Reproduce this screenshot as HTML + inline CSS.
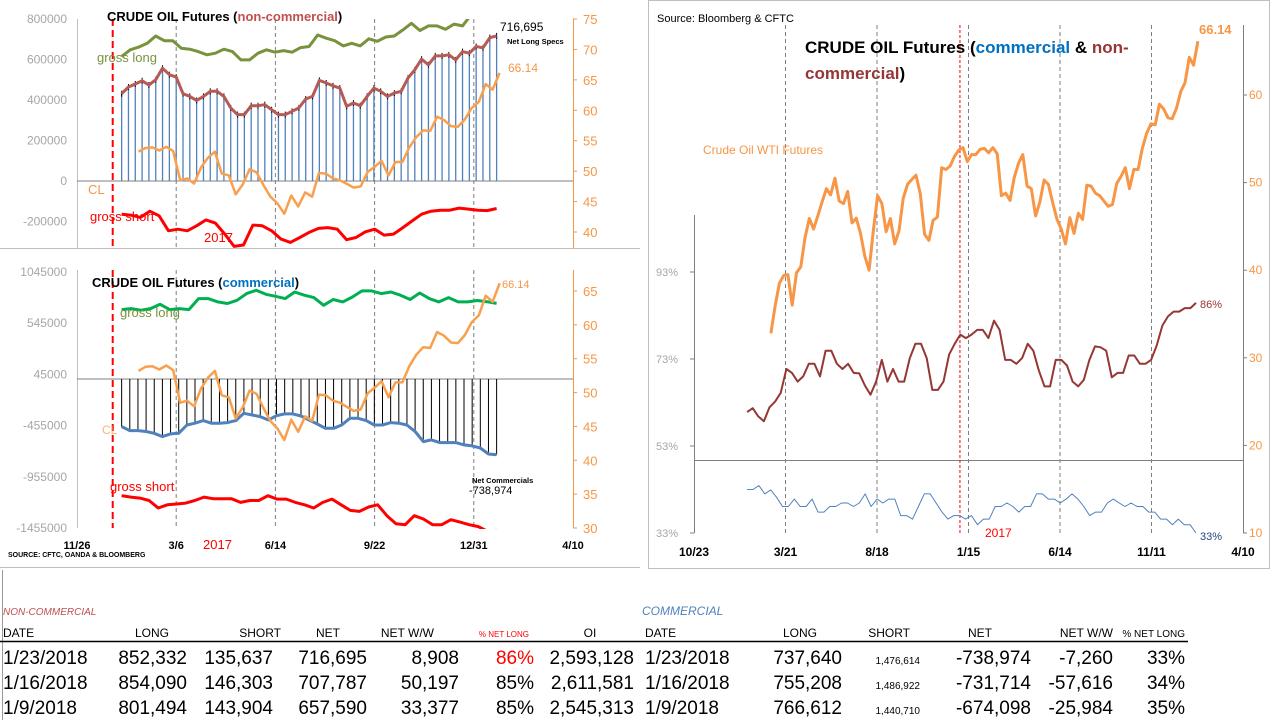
<!DOCTYPE html>
<html><head><meta charset="utf-8"><style>
body{margin:0;background:#fff;}
svg{display:block;font-family:"Liberation Sans",sans-serif;}
</style></head><body>
<svg id="s" width="1278" height="724" viewBox="0 0 1278 724">
<defs>
<clipPath id="cTop"><rect x="77" y="19" width="496" height="229"/></clipPath>
<clipPath id="cBot"><rect x="77" y="270" width="496" height="259"/></clipPath>
<clipPath id="cR"><rect x="694" y="20" width="549" height="514"/></clipPath>
</defs>
<!-- frames -->
<line x1="0" y1="248.5" x2="640" y2="248.5" stroke="#bfbfbf"/>
<line x1="0" y1="567.5" x2="640" y2="567.5" stroke="#bfbfbf"/>
<rect x="648.5" y="0.5" width="621" height="568" fill="none" stroke="#bfbfbf"/>
<line x1="2.5" y1="570" x2="2.5" y2="720" stroke="#999"/>
<g id="g"></g>
<!-- top-left texts -->
<text x="107" y="21" font-size="13" font-weight="bold">CRUDE OIL Futures (<tspan fill="#c0504d">non-commercial</tspan>)</text>
<text x="500" y="31" font-size="12">716,695</text>
<text x="507" y="44" font-size="7.5" font-weight="bold">Net Long Specs</text>
<text x="508" y="72" font-size="12" fill="#f79646">66.14</text>
<text x="97" y="62" font-size="13" fill="#77933c">gross long</text>
<text x="88" y="194" font-size="13" fill="#f79646">CL</text>
<text x="90" y="221" font-size="13" fill="#ff0000">gross short</text>
<text x="204" y="242" font-size="13" fill="#ff0000">2017</text>
<!-- bottom-left texts -->
<text x="92" y="287" font-size="13" font-weight="bold">CRUDE OIL Futures (<tspan fill="#0070c0">commercial</tspan>)</text>
<text x="120" y="317" font-size="13" fill="#77933c">gross long</text>
<text x="110" y="491" font-size="13" fill="#ff0000">gross short</text>
<text x="102" y="434" font-size="12" fill="#f79646" opacity="0.7">CL</text>
<text x="472" y="483" font-size="7.5" font-weight="bold">Net Commercials</text>
<text x="469" y="494" font-size="11">-738,974</text>
<text x="502" y="288" font-size="11" fill="#f79646">66.14</text>
<text x="203" y="549" font-size="13" fill="#ff0000">2017</text>
<text x="8" y="557" font-size="7" font-weight="bold">SOURCE: CFTC, OANDA &amp; BLOOMBERG</text>
<!-- right chart texts -->
<text x="657" y="22" font-size="11">Source: Bloomberg &amp; CFTC</text>
<text x="805" y="53" font-size="17" font-weight="bold">CRUDE OIL Futures (<tspan fill="#0070c0">commercial</tspan> &amp; <tspan fill="#953735">non-</tspan></text>
<text x="805" y="79" font-size="17" font-weight="bold"><tspan fill="#953735">commercial</tspan>)</text>
<text x="703" y="154" font-size="12" fill="#f79646">Crude Oil WTI Futures</text>
<text x="1199" y="34" font-size="13" font-weight="bold" fill="#f79646">66.14</text>
<text x="1200" y="308" font-size="11" fill="#953735">86%</text>
<text x="1200" y="540" font-size="11" fill="#1f497d">33%</text>
<text x="985" y="537" font-size="12" fill="#ff0000">2017</text>
<!-- table -->
<g font-size="19">
<text x="3" y="615" font-size="10" font-style="italic" fill="#c0504d">NON-COMMERCIAL</text>
<text x="642" y="615" font-size="12" font-style="italic" fill="#4f81bd">COMMERCIAL</text>
<g font-size="12">
<text x="3" y="637">DATE</text><text x="152" y="637" text-anchor="middle">LONG</text><text x="281" y="637" text-anchor="end">SHORT</text><text x="328" y="637" text-anchor="middle">NET</text><text x="434" y="637" text-anchor="end">NET W/W</text><text x="529" y="637" text-anchor="end" font-size="8" fill="#ff0000">% NET LONG</text><text x="590" y="637" text-anchor="middle">OI</text><text x="645" y="637">DATE</text><text x="800" y="637" text-anchor="middle">LONG</text><text x="910" y="637" text-anchor="end">SHORT</text><text x="980" y="637" text-anchor="middle">NET</text><text x="1113" y="637" text-anchor="end">NET W/W</text><text x="1185" y="637" text-anchor="end" font-size="10">% NET LONG</text>
</g>
<line x1="0" y1="641.5" x2="1188" y2="641.5" stroke="#000" stroke-width="1.5"/>
<g id="rows"></g>
</g>
</svg>
<script>
// ===== data =====
const wtiStart = '2016-02-26';
const wtiValues = [32.8,35.9,38.5,39.4,39.5,36.0,39.7,40.4,43.7,45.9,44.7,46.2,47.8,49.3,48.6,50.5,47.9,47.6,48.99,45.4,45.95,44.2,41.6,40.0,44.5,48.5,47.6,44.4,45.9,43.0,44.5,48.2,49.8,50.35,50.85,48.7,44.1,43.4,45.7,46.06,51.7,51.5,51.9,53.0,53.7,
53.99,52.4,53.2,53.2,53.8,53.9,53.4,54.0,53.3,48.5,48.8,47.97,50.6,52.2,53.2,49.6,49.3,46.2,47.8,50.3,49.8,47.7,45.8,44.7,43.0,46.0,44.2,46.5,45.8,49.7,49.6,48.8,48.5,47.9,47.3,47.5,49.9,50.7,51.7,49.3,51.5,51.5,53.9,55.6,56.7,56.6,58.95,58.4,57.4,57.3,58.5,60.4,61.4,64.3,63.4,66.14];
const cotStart = '2017-01-10', cotEnd = '2018-01-23';
const ncNet = [431,464,479,495,474,500,557,525,513,431,418,398,418,443,443,418,361,328,328,372,372,377,352,328,328,344,361,405,418,497,484,470,459,369,385,372,418,459,443,418,434,443,508,549,602,574,618,618,623,598,639,631,664,657.6,707.8,716.7];
const ncLong = [615,648,661,680,716,693,693,656,651,639,623,631,651,639,598,598,631,648,636,644,636,659,664,721,705,693,667,680,667,702,690,711,716,746,779,743,766,766,749,775,766,820,852,854,852];
const ncShort = [-164,-169,-180,-149,-172,-246,-238,-246,-221,-192,-208,-262,-323,-316,-218,-221,-246,-287,-303,-279,-254,-234,-230,-238,-290,-279,-251,-238,-267,-262,-230,-197,-164,-149,-144,-144,-134,-139,-144,-146,-136];
const cNet = [-465,-504,-504,-513,-530,-562,-536,-530,-449,-432,-406,-432,-432,-426,-406,-335,-351,-367,-400,-358,-341,-341,-361,-400,-439,-481,-481,-449,-384,-384,-406,-449,-449,-426,-432,-449,-513,-611,-595,-621,-621,-621,-643,-653,-674,-732,-739];
const cLong = [678,688,672,688,730,678,688,678,785,785,753,737,769,834,866,827,808,785,850,818,795,720,776,753,801,860,860,834,850,818,776,840,785,753,795,753,753,767,755,738];
const cShort = [-1140,-1153,-1163,-1186,-1260,-1228,-1221,-1212,-1186,-1153,-1169,-1169,-1169,-1205,-1186,-1186,-1140,-1173,-1173,-1205,-1228,-1260,-1205,-1173,-1228,-1283,-1293,-1250,-1228,-1335,-1413,-1423,-1335,-1367,-1423,-1423,-1374,-1397,-1423,-1441,-1487,-1477];
const pctStart = '2016-01-18', pctEnd = '2018-01-23';
const ncPct = [60.8,61.7,59.8,58.7,61.9,63.2,65.2,70.7,69.8,67.8,69.0,71.9,71.9,69.0,74.9,74.9,71.9,70.7,71.9,69.8,69.7,66.9,64.8,67.8,72.8,67.8,70.7,67.8,67.8,73.2,76.5,76.5,73.2,65.9,65.9,67.8,74.0,76.5,78.6,77.8,78.6,79.7,79.7,77.8,81.8,79.7,72.8,72.8,71.9,73.2,76.5,74.9,70.3,66.7,66.7,72.8,72.8,71.5,67.8,66.7,68.2,72.8,75.9,75.7,74.9,68.8,69.8,69.8,73.8,73.8,71.9,71.9,72.8,76.1,80.7,82.8,83.9,83.9,84.7,84.7,85.9];
const cPct = [43.0,43.0,43.9,42.0,42.9,41.2,39.1,39.1,40.8,39.1,39.1,40.8,37.8,37.8,39.1,39.1,39.9,39.9,39.1,39.9,42.0,39.1,40.8,39.9,40.8,40.8,37.0,37.0,36.2,39.1,42.0,42.0,39.9,37.8,36.2,37.0,37.0,36.2,37.0,34.9,36.2,36.2,39.1,39.1,39.9,39.1,37.8,39.1,39.1,42.0,42.0,40.8,40.8,39.9,40.8,42.0,40.8,39.1,37.0,37.8,37.8,39.9,40.8,39.9,39.1,39.9,39.1,39.1,37.8,37.8,36.2,36.2,34.9,36.2,34.9,34.9,33.0];
const topLeftTicks = [800000,600000,400000,200000,0,-200000];
const topRightTicks = [75,70,65,60,55,50,45,40];
const botLeftTicks = [1045000,545000,45000,-455000,-955000,-1455000];
const botRightTicks = [65,60,55,50,45,40,35,30];
const leftDates = ['2016-11-26','2017-03-06','2017-06-14','2017-09-22','2017-12-31','2018-04-10'];
const leftDateLabels = ['11/26','3/6','6/14','9/22','12/31','4/10'];
const rightDates = ['2015-10-23','2016-03-21','2016-08-18','2017-01-15','2017-06-14','2017-11-11','2018-04-10'];
const rightDateLabels = ['10/23','3/21','8/18','1/15','6/14','11/11','4/10'];
const pctTicks = [93,73,53,33];
const wtiTicks = [60,50,40,30,20,10];
const tableRows = [
 ['1/23/2018','852,332','135,637','716,695','8,908','86%','2,593,128','1/23/2018','737,640','1,476,614','-738,974','-7,260','33%'],
 ['1/16/2018','854,090','146,303','707,787','50,197','85%','2,611,581','1/16/2018','755,208','1,486,922','-731,714','-57,616','34%'],
 ['1/9/2018','801,494','143,904','657,590','33,377','85%','2,545,313','1/9/2018','766,612','1,440,710','-674,098','-25,984','35%']];

// ===== helpers =====
const NS='http://www.w3.org/2000/svg';
const G=document.getElementById('g');
function el(tag,attrs,parent){const e=document.createElementNS(NS,tag);for(const k in attrs)e.setAttribute(k,attrs[k]);(parent||G).appendChild(e);return e;}
const D=s=>Date.parse(s+'T00:00:00Z')/864e5;
const xL=d=>77+(d-D('2016-11-26'))*496/500;
const yTL=v=>181-v*162/800000;
const yTR=p=>19+(75-p)*213/35;
const yBL=v=>272+(1045000-v)*256/2500000;
const yBR=p=>291+(65-p)*237/35;
const xR=d=>694+(d-D('2015-10-23'))*549/900;
const yRP=p=>533-(p-33)*261/60;
const yRR=p=>533-(p-10)*438/50;
function spread(n,s,e){const a=D(s),b=D(e);return Array.from({length:n},(_,i)=>a+i*(b-a)/(n-1));}
const wtiDays=wtiValues.map((_,i)=>D(wtiStart)+i*7);
function path(xs,ys,stroke,w,clip,name){
  const d=xs.map((x,i)=>(i?'L':'M')+x.toFixed(1)+','+ys[i].toFixed(1)).join('');
  const p=el('path',{d:d,fill:'none',stroke:stroke,'stroke-width':w,'stroke-linejoin':'round','clip-path':'url(#'+clip+')'});
  
  
  return p;
}

// ===== left axes & grid =====
[['top',19,248],['bot',270,528]].forEach(([k,y0,y1])=>{
  const a=el('line',{x1:77.5,y1:y0,x2:77.5,y2:y1,stroke:'#bfbfbf'});
  
  
  const b=el('line',{x1:573.5,y1:y0,x2:573.5,y2:y1,stroke:'#f79646'});
  
  
  for(let i=1;i<5;i++){
    const x=xL(D(leftDates[i]));
    const l=el('line',{x1:x,y1:y0,x2:x,y2:y1,stroke:'#7f7f7f','stroke-dasharray':'4,3'});
    
    
  }
  const r=el('line',{x1:xL(D('2017-01-01')),y1:y0,x2:xL(D('2017-01-01')),y2:y1,stroke:'#ff0000','stroke-width':2,'stroke-dasharray':'7,4'});
  
  
});
topLeftTicks.forEach(v=>{const t=el('text',{x:67,y:yTL(v)+4,'font-size':12,fill:'#a6a6a6','text-anchor':'end'});t.textContent=v;
  
  });
topRightTicks.forEach(v=>{const t=el('text',{x:583,y:yTR(v)+5,'font-size':13,fill:'#f79646'});t.textContent=v;
  
  
  el('line',{x1:573,y1:yTR(v),x2:577,y2:yTR(v),stroke:'#f79646'});});
botLeftTicks.forEach(v=>{const t=el('text',{x:67,y:yBL(v)+4,'font-size':12,fill:'#a6a6a6','text-anchor':'end'});t.textContent=v;
  
  });
botRightTicks.forEach(v=>{const t=el('text',{x:583,y:yBR(v)+5,'font-size':13,fill:'#f79646'});t.textContent=v;
  
  
  el('line',{x1:573,y1:yBR(v),x2:577,y2:yBR(v),stroke:'#f79646'});});
leftDates.forEach((d,i)=>{const t=el('text',{x:xL(D(d)),y:549,'font-size':11,'font-weight':'bold','text-anchor':'middle'});t.textContent=leftDateLabels[i];
  
  });

// ===== top chart =====
const z1=el('line',{x1:77,y1:yTL(0),x2:573,y2:yTL(0),stroke:'#7f7f7f'});


const netDays=spread(ncNet.length,cotStart,cotEnd);
ncNet.forEach((v,i)=>{const b=el('line',{x1:xL(netDays[i]),y1:yTL(0),x2:xL(netDays[i]),y2:yTL(v*1000),stroke:'#4f81bd','stroke-width':1.3});
  
  
  el('line',{x1:xL(netDays[i]),y1:yTL(v*1000)-3,x2:xL(netDays[i]),y2:yTL(v*1000)+3,stroke:'#000','stroke-width':1});});
path(netDays.map(xL),ncNet.map(v=>yTL(v*1000)),'#b65a55',3,'cTop','net-long-line');
const lDays=spread(ncLong.length,cotStart,cotEnd);
path(lDays.map(xL),ncLong.map(v=>yTL(v*1000)),'#77933c',3,'cTop','gross-long-line-top');
const sDays=spread(ncShort.length,cotStart,cotEnd);
path(sDays.map(xL),ncShort.map(v=>yTL(v*1000)),'#ff0000',3,'cTop','gross-short-line-top');
const clIdx=wtiDays.map((d,i)=>i).filter(i=>wtiDays[i]>=D('2017-01-27'));
path(clIdx.map(i=>xL(wtiDays[i])),clIdx.map(i=>yTR(wtiValues[i])),'#f9a04e',2.5,'cTop','cl-line-top');

// ===== bottom chart =====
const z2=el('line',{x1:77,y1:yBL(0),x2:573,y2:yBL(0),stroke:'#7f7f7f'});


const cnDays=spread(cNet.length,cotStart,cotEnd);
cNet.forEach((v,i)=>{const b=el('line',{x1:xL(cnDays[i]),y1:yBL(0),x2:xL(cnDays[i]),y2:yBL(v*1000),stroke:'#000','stroke-width':1});
  
  });
path(cnDays.map(xL),cNet.map(v=>yBL(v*1000)),'#4f81bd',3,'cBot','net-commercial-line');
const clDays=spread(cLong.length,cotStart,cotEnd);
path(clDays.map(xL),cLong.map(v=>yBL(v*1000)),'#00b050',3,'cBot','gross-long-line-bottom');
const csDays=spread(cShort.length,cotStart,cotEnd);
path(csDays.map(xL),cShort.map(v=>yBL(v*1000)),'#ff0000',3,'cBot','gross-short-line-bottom');
path(clIdx.map(i=>xL(wtiDays[i])),clIdx.map(i=>yBR(wtiValues[i])),'#f9a04e',2.5,'cBot','cl-line-bottom');

// ===== right chart =====
const ra=el('line',{x1:694.5,y1:215,x2:694.5,y2:533,stroke:'#7f7f7f'});


const rb=el('line',{x1:1243.5,y1:25,x2:1243.5,y2:533,stroke:'#7f7f7f'});


const rh=el('line',{x1:694,y1:460.5,x2:1243,y2:460.5,stroke:'#7f7f7f'});


for(let i=1;i<6;i++){const x=xR(D(rightDates[i]));
  const l=el('line',{x1:x,y1:25,x2:x,y2:533,stroke:'#7f7f7f','stroke-dasharray':'4,3'});
  
  }
const rr=el('line',{x1:xR(D('2017-01-01')),y1:25,x2:xR(D('2017-01-01')),y2:533,stroke:'#ff0000','stroke-dasharray':'3,2'});


rightDates.forEach((d,i)=>{const t=el('text',{x:xR(D(d)),y:556,'font-size':12,'font-weight':'bold','text-anchor':'middle'});t.textContent=rightDateLabels[i];
  
  });
pctTicks.forEach(v=>{const t=el('text',{x:656,y:yRP(v)+4,'font-size':11,fill:'#a6a6a6'});t.textContent=v+'%';
  
  
  el('line',{x1:690,y1:yRP(v),x2:694,y2:yRP(v),stroke:'#7f7f7f'});});
wtiTicks.forEach(v=>{const t=el('text',{x:1249,y:yRR(v)+4,'font-size':12,fill:'#f79646'});t.textContent=v;
  
  
  el('line',{x1:1243,y1:yRR(v),x2:1247,y2:yRR(v),stroke:'#7f7f7f'});});
path(wtiDays.map(xR),wtiValues.map(yRR),'#f79646',3,'cR','wti-price-line');
const npDays=spread(ncPct.length,pctStart,pctEnd);
path(npDays.map(xR),ncPct.map(yRP),'#953735',2,'cR','noncomm-net-long-pct-line');
const cpDays=spread(cPct.length,pctStart,pctEnd);
path(cpDays.map(xR),cPct.map(yRP),'#4f81bd',1,'cR','comm-net-long-pct-line');

// ===== table rows =====
const R=document.getElementById('rows');
const colX=[3,187,273,367,459,534,634,645,842,920,1031,1113,1185];
const rowY=[664,689,714];
tableRows.forEach((row,ri)=>{row.forEach((c,ci)=>{
  const left=(ci===0||ci===7);
  const t=el('text',{x:colX[ci],y:rowY[ri],'text-anchor':left?'start':'end','font-size':ci===9?10:19},R);
  if(ci===5&&ri===0)t.setAttribute('fill','#ff0000');
  t.textContent=c;
  
  
});});
</script>
</body></html>
